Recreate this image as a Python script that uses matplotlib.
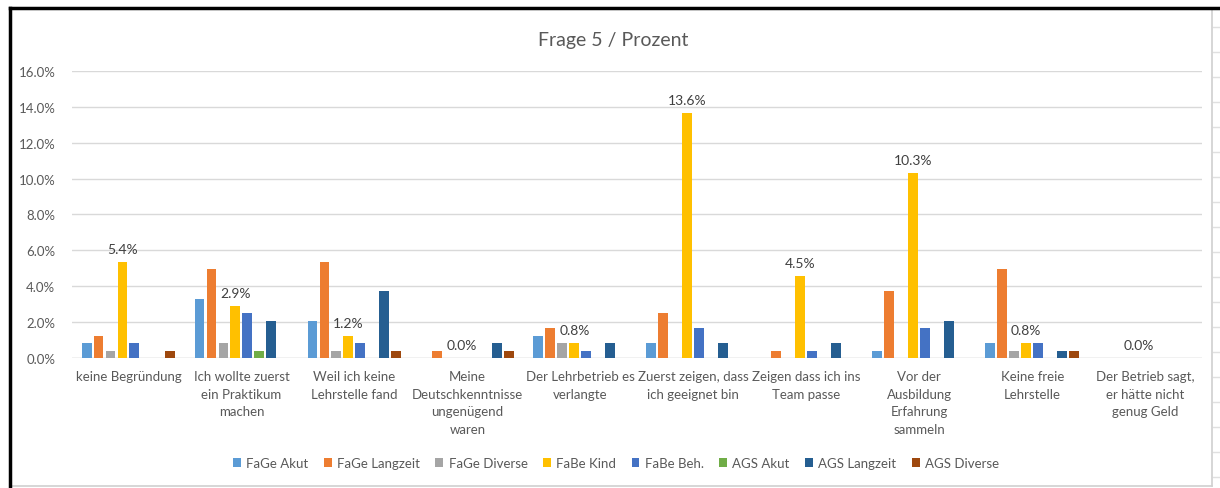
import matplotlib.pyplot as plt
import numpy as np
from matplotlib.lines import Line2D

plt.rcParams['font.family'] = ['Lato', 'DejaVu Sans']

categories = ["keine Begründung",
              "Ich wollte zuerst\nein Praktikum\nmachen",
              "Weil ich keine\nLehrstelle fand",
              "Meine\nDeutschkenntnisse\nungenügend\nwaren",
              "Der Lehrbetrieb es\nverlangte",
              "Zuerst zeigen, dass\nich geeignet bin",
              "Zeigen dass ich ins\nTeam passe",
              "Vor der\nAusbildung\nErfahrung\nsammeln",
              "Keine freie\nLehrstelle",
              "Der Betrieb sagt,\ner hätte nicht\ngenug Geld"]

series = ["FaGe Akut", "FaGe Langzeit", "FaGe Diverse", "FaBe Kind",
          "FaBe Beh.", "AGS Akut", "AGS Langzeit", "AGS Diverse"]

# percentages per series (one value per category)
fage_akut     = [0.83, 3.31, 2.07, 0.0, 1.24, 0.83, 0.0, 0.41, 0.83, 0.0]
fage_langzeit = [1.24, 4.96, 5.37, 0.41, 1.65, 2.48, 0.41, 3.72, 4.96, 0.0]
fage_diverse  = [0.41, 0.83, 0.41, 0.0, 0.83, 0.0, 0.0, 0.0, 0.41, 0.0]
fabe_kind     = [5.37, 2.89, 1.24, 0.0, 0.83, 13.64, 4.55, 10.33, 0.83, 0.0]
fabe_beh      = [0.83, 2.48, 0.83, 0.0, 0.41, 1.65, 0.41, 1.65, 0.83, 0.0]
ags_akut      = [0.0, 0.41, 0.0, 0.0, 0.0, 0.0, 0.0, 0.0, 0.0, 0.0]
ags_langzeit  = [0.0, 2.07, 3.72, 0.83, 0.83, 0.83, 0.83, 2.07, 0.41, 0.0]
ags_diverse   = [0.41, 0.0, 0.41, 0.41, 0.0, 0.0, 0.0, 0.0, 0.41, 0.0]

values = [fage_akut, fage_langzeit, fage_diverse, fabe_kind,
          fabe_beh, ags_akut, ags_langzeit, ags_diverse]
colors = ["#5B9BD5", "#ED7D31", "#A5A5A5", "#FFC000",
          "#4472C4", "#70AD47", "#255E91", "#9E480E"]

txt = "#595959"
fig = plt.figure(figsize=(12.2, 4.89), dpi=100)
ax = fig.add_axes([0.059, 0.266, 0.926, 0.587])

x = np.arange(len(categories))
pitch = 0.106
width = 0.088
for i, (name, vals, c) in enumerate(zip(series, values, colors)):
    pos = x + (i - 3.5) * pitch
    bars = ax.bar(pos, vals, width, color=c, label=name, zorder=3)
    if name == "FaBe Kind":
        for b, v in zip(bars, vals):
            ax.annotate("%.1f%%" % v, (b.get_x() + b.get_width() / 2, v),
                        xytext=(0, 5), textcoords="offset points",
                        ha="center", va="bottom", fontsize=10, color="#404040")

ax.set_xlim(-0.5, len(categories) - 0.5)
ax.set_ylim(0, 16)
ax.set_yticks(np.arange(0, 17, 2))
ax.set_yticklabels(["%.1f%%" % v for v in np.arange(0, 17, 2)])
ax.yaxis.grid(True, color="#D9D9D9", linewidth=1, zorder=0)
ax.set_xticks(x)
ax.set_xticklabels(categories, fontsize=9.5, color=txt, linespacing=1.55, va="top")
ax.tick_params(axis="both", length=0, colors=txt, labelsize=9.5)
ax.tick_params(axis="x", pad=9)
ax.tick_params(axis="y", pad=12)
for s in ax.spines.values():
    s.set_visible(False)
ax.axhline(0, color="#D9D9D9", linewidth=1, zorder=2)

fig.text(0.503, 0.918, "Frage 5 / Prozent", ha="center", va="center",
         fontsize=14, color=txt)

leg = fig.legend(loc="center", bbox_to_anchor=(0.505, 0.051), ncol=8,
                 frameon=False, fontsize=9.5, handlelength=0.6, handleheight=0.6,
                 handletextpad=0.4, columnspacing=1.17)
for t in leg.get_texts():
    t.set_color(txt)

# screenshot frame around the chart
W, H = 1220, 489
def px(x0, y0, x1, y1, **kw):
    fig.add_artist(Line2D([x0 / W, x1 / W], [1 - y0 / H, 1 - y1 / H],
                          transform=fig.transFigure, **kw))
for yy in range(28, 489, 25):
    px(1213, yy, 1220, yy, color="#E0E0E0", linewidth=1)
px(1212, 10, 1212, 487, color="#D0D0D0", linewidth=1.2)
px(10, 487, 1212, 487, color="#D0D0D0", linewidth=1.2)
px(10, 9, 1220, 9, color="black", linewidth=2.5)
px(10, 9, 10, 489, color="black", linewidth=2.5)

fig.savefig("out.png", dpi=100, facecolor="white")
